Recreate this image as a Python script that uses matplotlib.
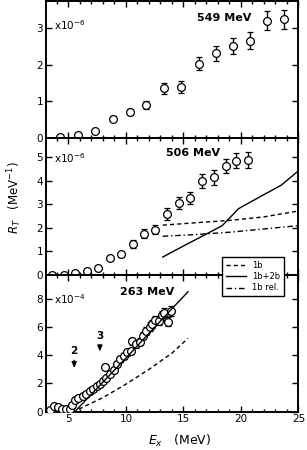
import matplotlib
matplotlib.use("Agg")
import matplotlib.pyplot as plt
from matplotlib.ticker import MultipleLocator
from matplotlib.lines import Line2D

# ---- data ----
# 549 MeV (x1e-6)
x549 = [4.28, 5.81, 7.30, 8.83, 10.32, 11.78, 13.3, 14.8, 16.33, 17.8, 19.3, 20.8, 22.3, 23.77]
y549 = [0.02, 0.08, 0.18, 0.53, 0.71, 0.91, 1.35, 1.38, 2.03, 2.31, 2.51, 2.65, 3.20, 3.24]
e549 = [0.0, 0.0, 0.0, 0.06, 0.08, 0.11, 0.16, 0.16, 0.19, 0.21, 0.21, 0.23, 0.25, 0.26]

# 506 MeV (x1e-6)
x506 = [3.57, 4.6, 5.6, 6.59, 7.59, 8.6, 9.6, 10.58, 11.55, 12.56, 13.6, 14.63, 15.6, 16.64, 17.65, 18.66, 19.6, 20.58]
y506 = [0.01, 0.01, 0.07, 0.16, 0.30, 0.71, 0.87, 1.32, 1.74, 1.92, 2.58, 3.06, 3.25, 3.99, 4.13, 4.60, 4.84, 4.87]
e506 = [0.0, 0.0, 0.0, 0.0, 0.0, 0.08, 0.1, 0.17, 0.19, 0.2, 0.24, 0.25, 0.26, 0.3, 0.3, 0.3, 0.32, 0.34]

x506_1b = [13.2, 16.0, 19.0, 22.0, 25.0]
y506_1b = [2.11, 2.21, 2.31, 2.46, 2.71]
x506_rel = [13.2, 16.0, 19.0, 22.0, 25.0]
y506_rel = [1.64, 1.71, 1.81, 1.95, 2.09]
x506_2b = [13.2, 15.2, 16.9, 18.37, 19.8, 21.8, 23.5, 25.0]
y506_2b = [0.76, 1.28, 1.71, 2.09, 2.81, 3.35, 3.80, 4.41]

# 263 MeV (x1e-4)
x263 = [3.42, 3.75, 4.05, 4.42, 4.77, 5.09, 5.3, 5.58, 5.86, 6.25, 6.55, 6.87, 7.15, 7.45,
        7.75, 8.0, 8.17, 8.3, 8.65, 8.95, 9.22, 9.5, 9.8, 10.1, 10.4, 10.55, 10.9, 11.2,
        11.5, 11.76, 12.05, 12.3, 12.55, 12.85, 13.1, 13.3, 13.62, 13.9]
y263 = [0.12, 0.40, 0.30, 0.20, 0.17, 0.18, 0.47, 0.83, 0.95, 1.10, 1.25, 1.45, 1.60, 1.80,
        1.95, 2.15, 3.20, 2.40, 2.70, 2.95, 3.40, 3.75, 3.95, 4.20, 4.30, 5.00, 4.80, 4.95,
        5.40, 5.75, 6.03, 6.20, 6.50, 6.45, 6.85, 7.00, 6.38, 7.16]
e263 = [0.0, 0.0, 0.0, 0.0, 0.0, 0.0, 0.05, 0.05, 0.05, 0.08, 0.08, 0.1, 0.1, 0.12,
        0.12, 0.12, 0.15, 0.15, 0.15, 0.18, 0.2, 0.2, 0.2, 0.22, 0.22, 0.25, 0.25, 0.25,
        0.28, 0.28, 0.3, 0.3, 0.3, 0.3, 0.32, 0.32, 0.32, 0.35]

x263_2b = [5.55, 8.0, 10.0, 12.0, 14.0, 15.4]
y263_2b = [0.0, 2.1, 3.8, 5.55, 7.3, 8.5]
x263_1b = [5.9, 8.0, 10.0, 12.0, 14.0, 15.4]
y263_1b = [0.18, 1.0, 1.95, 3.0, 4.15, 5.2]

xticks = [5, 10, 15, 20, 25]

# ---- figure ----
fig = plt.figure(figsize=(3.07, 4.5), dpi=100)
L, W = 0.150, 0.822
ax1 = fig.add_axes([L, 0.6933, W, 0.3034])
ax2 = fig.add_axes([L, 0.3889, W, 0.3044])
ax3 = fig.add_axes([L, 0.0851, W, 0.3038])

mk = dict(fmt='o', ms=5.6, mfc='white', mec='black', mew=0.9, ecolor='black',
          elinewidth=1.0, capsize=2.3, capthick=1.0, zorder=3, clip_on=False)

ax1.errorbar(x549, y549, yerr=e549, **mk)
ax2.errorbar(x506, y506, yerr=e506, **mk)
mk3 = dict(mk)
mk3['clip_on'] = True
ax3.errorbar(x263, y263, yerr=e263, **mk3)

ax2.plot(x506_1b, y506_1b, color='black', lw=1.0, ls=(0, (3, 2.2)))
ax2.plot(x506_2b, y506_2b, color='black', lw=1.0, ls='-')
ax2.plot(x506_rel, y506_rel, color='black', lw=1.0, ls=(0, (4, 2, 1, 2)))

ax3.plot(x263_2b, y263_2b, color='black', lw=1.0, ls='-', zorder=4)
ax3.plot(x263_1b, y263_1b, color='black', lw=1.0, ls=(0, (3, 2.2)))

ax1.set_ylim(0, 3.72)
ax2.set_ylim(0, 5.8)
ax3.set_ylim(0, 9.69)
ax1.set_yticks([0, 1, 2, 3])
ax2.set_yticks([0, 1, 2, 3, 4, 5])
ax3.set_yticks([0, 2, 4, 6, 8])

for ax in (ax1, ax2, ax3):
    ax.set_xlim(3.05, 25)
    ax.set_xticks(xticks)
    ax.xaxis.set_minor_locator(MultipleLocator(1))
    ax.tick_params(which='both', direction='in', top=True, right=True,
                   labelsize=7.5, width=1.0, pad=2)
    ax.tick_params(which='major', length=4)
    ax.tick_params(which='minor', length=2.2)
    for s in ax.spines.values():
        s.set_linewidth(1.4)
for ax in (ax1, ax2):
    ax.tick_params(labelbottom=False)

# annotations
ax1.text(0.03, 0.83, 'x10$^{-6}$', transform=ax1.transAxes, fontsize=7.5, va='center')
ax2.text(0.03, 0.854, 'x10$^{-6}$', transform=ax2.transAxes, fontsize=7.5, va='center')
ax3.text(0.03, 0.824, 'x10$^{-4}$', transform=ax3.transAxes, fontsize=7.5, va='center')

ax1.text(0.706, 0.88, '549 MeV', transform=ax1.transAxes, fontsize=8, fontweight='bold',
         ha='center', va='center')
ax2.text(0.583, 0.888, '506 MeV', transform=ax2.transAxes, fontsize=8, fontweight='bold',
         ha='center', va='center')
ax3.text(0.40, 0.873, '263 MeV', transform=ax3.transAxes, fontsize=8, fontweight='bold',
         ha='center', va='center')

arr = dict(arrowstyle='-|>,head_length=0.35,head_width=0.15', color='black', lw=0.9)
ax3.annotate('', xy=(5.5, 2.9), xytext=(5.5, 3.85), arrowprops=arr)
ax3.text(5.5, 4.3, '2', ha='center', va='center', fontsize=7.5, fontweight='bold')
ax3.annotate('', xy=(7.73, 4.08), xytext=(7.73, 4.9), arrowprops=arr)
ax3.text(7.73, 5.4, '3', ha='center', va='center', fontsize=7.5, fontweight='bold')

fig.text(15 / 307, 1 - 198 / 450, '$R_T$   (MeV$^{-1}$)', rotation=90,
         ha='center', va='center', fontsize=8.5)
fig.text(180 / 307, 1 - 441 / 450, '$E_x$   (MeV)', ha='center', va='center', fontsize=9)

handles = [Line2D([], [], color='black', lw=1.0, ls=(0, (3, 2.2))),
           Line2D([], [], color='black', lw=1.0, ls='-'),
           Line2D([], [], color='black', lw=1.0, ls=(0, (4, 2, 1, 2)))]
leg = fig.legend(handles, ['1b', '1b+2b', '1b rel.'], loc='upper left',
                 bbox_to_anchor=(218 / 307, 1 - 253 / 450), bbox_transform=fig.transFigure,
                 fontsize=6, handlelength=2.4, handletextpad=0.8, borderpad=0.4,
                 labelspacing=0.3, fancybox=False, framealpha=1, edgecolor='black')
leg.get_frame().set_linewidth(1.0)

fig.savefig('out.png', dpi=100)
